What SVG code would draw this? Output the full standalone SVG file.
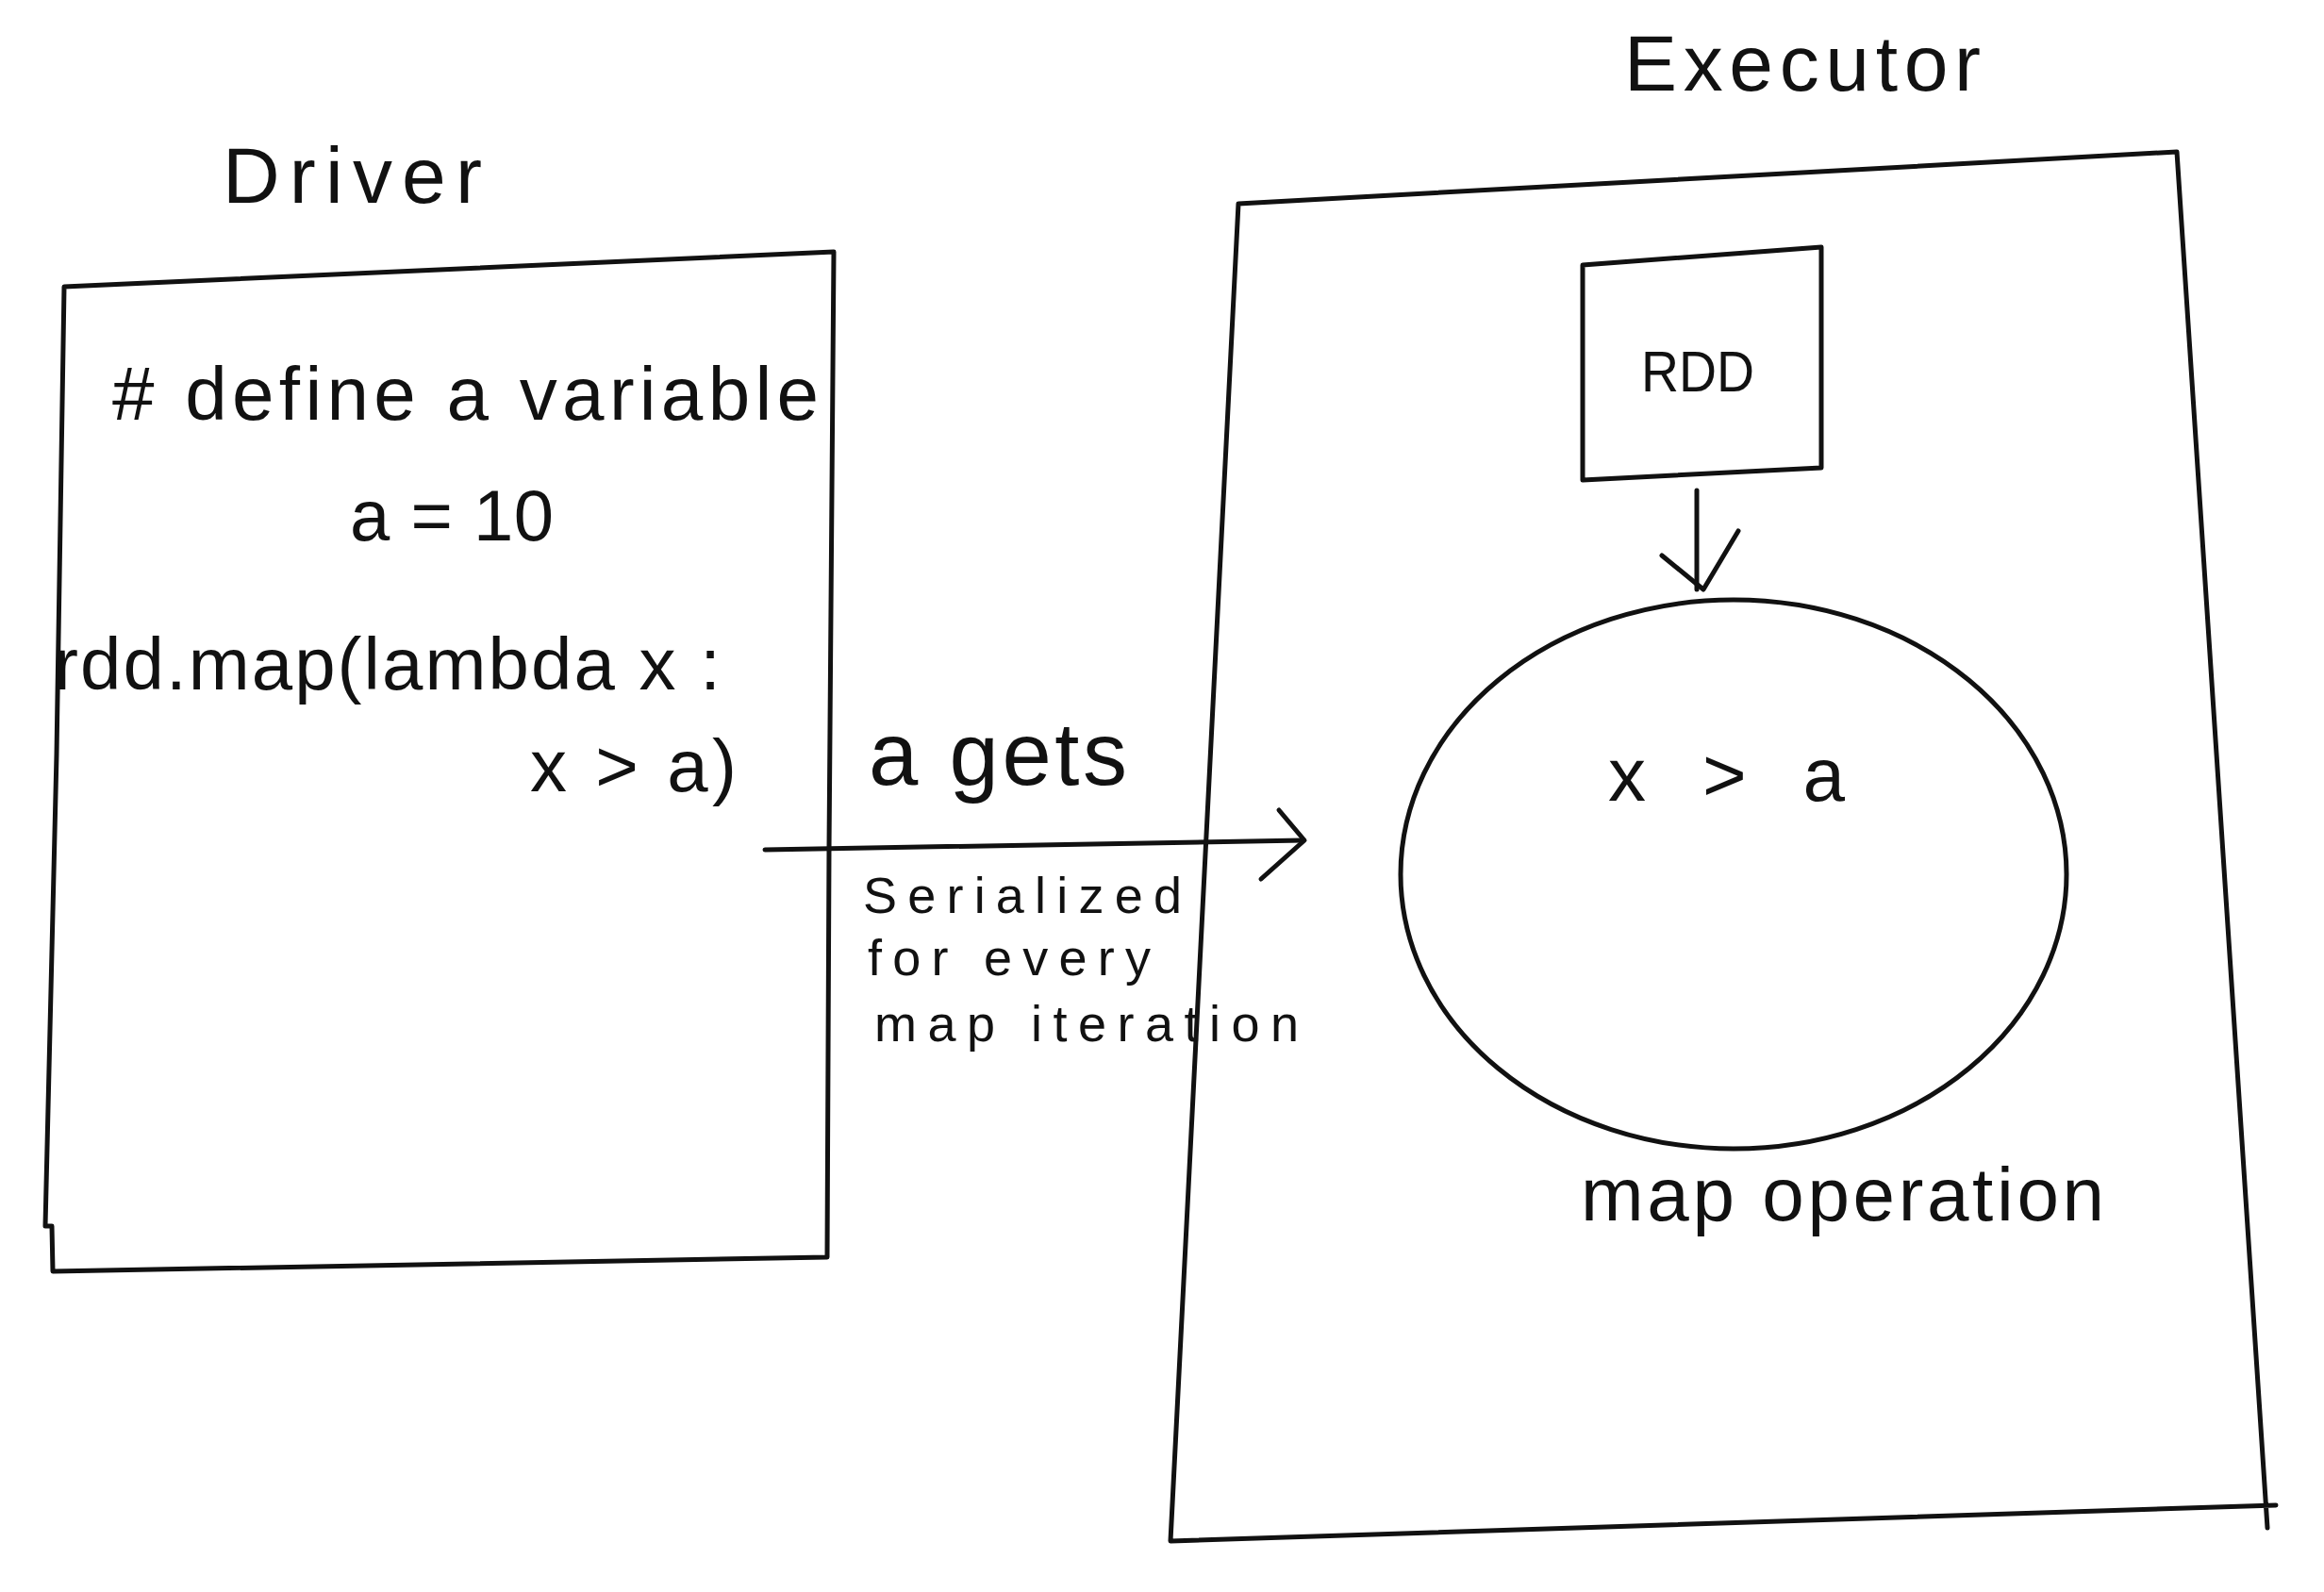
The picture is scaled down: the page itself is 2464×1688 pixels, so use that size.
<svg xmlns="http://www.w3.org/2000/svg" width="2464" height="1688" viewBox="0 0 2464 1688">
<style>
.ln{fill:none;stroke:#111;stroke-width:5;stroke-linecap:round;stroke-linejoin:round}
.t{font-family:"Liberation Sans","DejaVu Sans",sans-serif;fill:#111}
</style>
<rect width="2464" height="1688" fill="#fff"/>
<g id="driver">
<text class="t" x="236" y="215" font-size="84" textLength="275" lengthAdjust="spacing">Driver</text>
<path class="ln" d="M68,304 L884,267 L879,900 L877,1333 L56,1348 L55,1300 L48,1300 L60,800 Z"/>
<text class="t" x="119" y="445" font-size="80" textLength="749" lengthAdjust="spacing"># define a variable</text>
<text class="t" x="371" y="573" font-size="76" textLength="216" lengthAdjust="spacing">a = 10</text>
<text class="t" x="57" y="731" font-size="78" textLength="707" lengthAdjust="spacing">rdd.map(lambda x :</text>
<text class="t" x="562" y="839" font-size="78" textLength="219" lengthAdjust="spacing">x &gt; a)</text>
</g>
<g id="executor">
<text class="t" x="1722" y="96" font-size="84" textLength="378" lengthAdjust="spacing">Executor</text>
<path class="ln" d="M1313,216 L2308,161 L2404,1620 M2413,1596 L1241,1634 L1313,216"/>
</g>
<g id="rdd">
<path class="ln" d="M1678,281 L1931,262 L1931,496 L1678,509 Z"/>
<text class="t" x="1740" y="415" font-size="62" textLength="120" lengthAdjust="spacingAndGlyphs">RDD</text>
</g>
<g id="map_operation">
<ellipse class="ln" cx="1838" cy="927" rx="353" ry="291"/>
<text class="t" x="1705" y="849" font-size="80" textLength="251" lengthAdjust="spacing">x &gt; a</text>
<text class="t" x="1676" y="1294" font-size="80" textLength="555" lengthAdjust="spacing">map operation</text>
</g>
<g id="connectors">
<path class="ln" d="M811,901 L1381,891"/>
<path class="ln" d="M1356,859 L1383,891 L1337,932"/>
<path class="ln" d="M1799,520 L1799,625"/>
<path class="ln" d="M1762,589 L1806,625 L1843,563"/>
<text class="t" x="921" y="832" font-size="94" textLength="274" lengthAdjust="spacing">a gets</text>
<text class="t" x="915" y="968" font-size="54" textLength="338" lengthAdjust="spacing">Serialized</text>
<text class="t" x="920" y="1034" font-size="54" textLength="300" lengthAdjust="spacing">for every</text>
<text class="t" x="927" y="1104" font-size="54" textLength="450" lengthAdjust="spacing">map iteration</text>
</g>
</svg>
